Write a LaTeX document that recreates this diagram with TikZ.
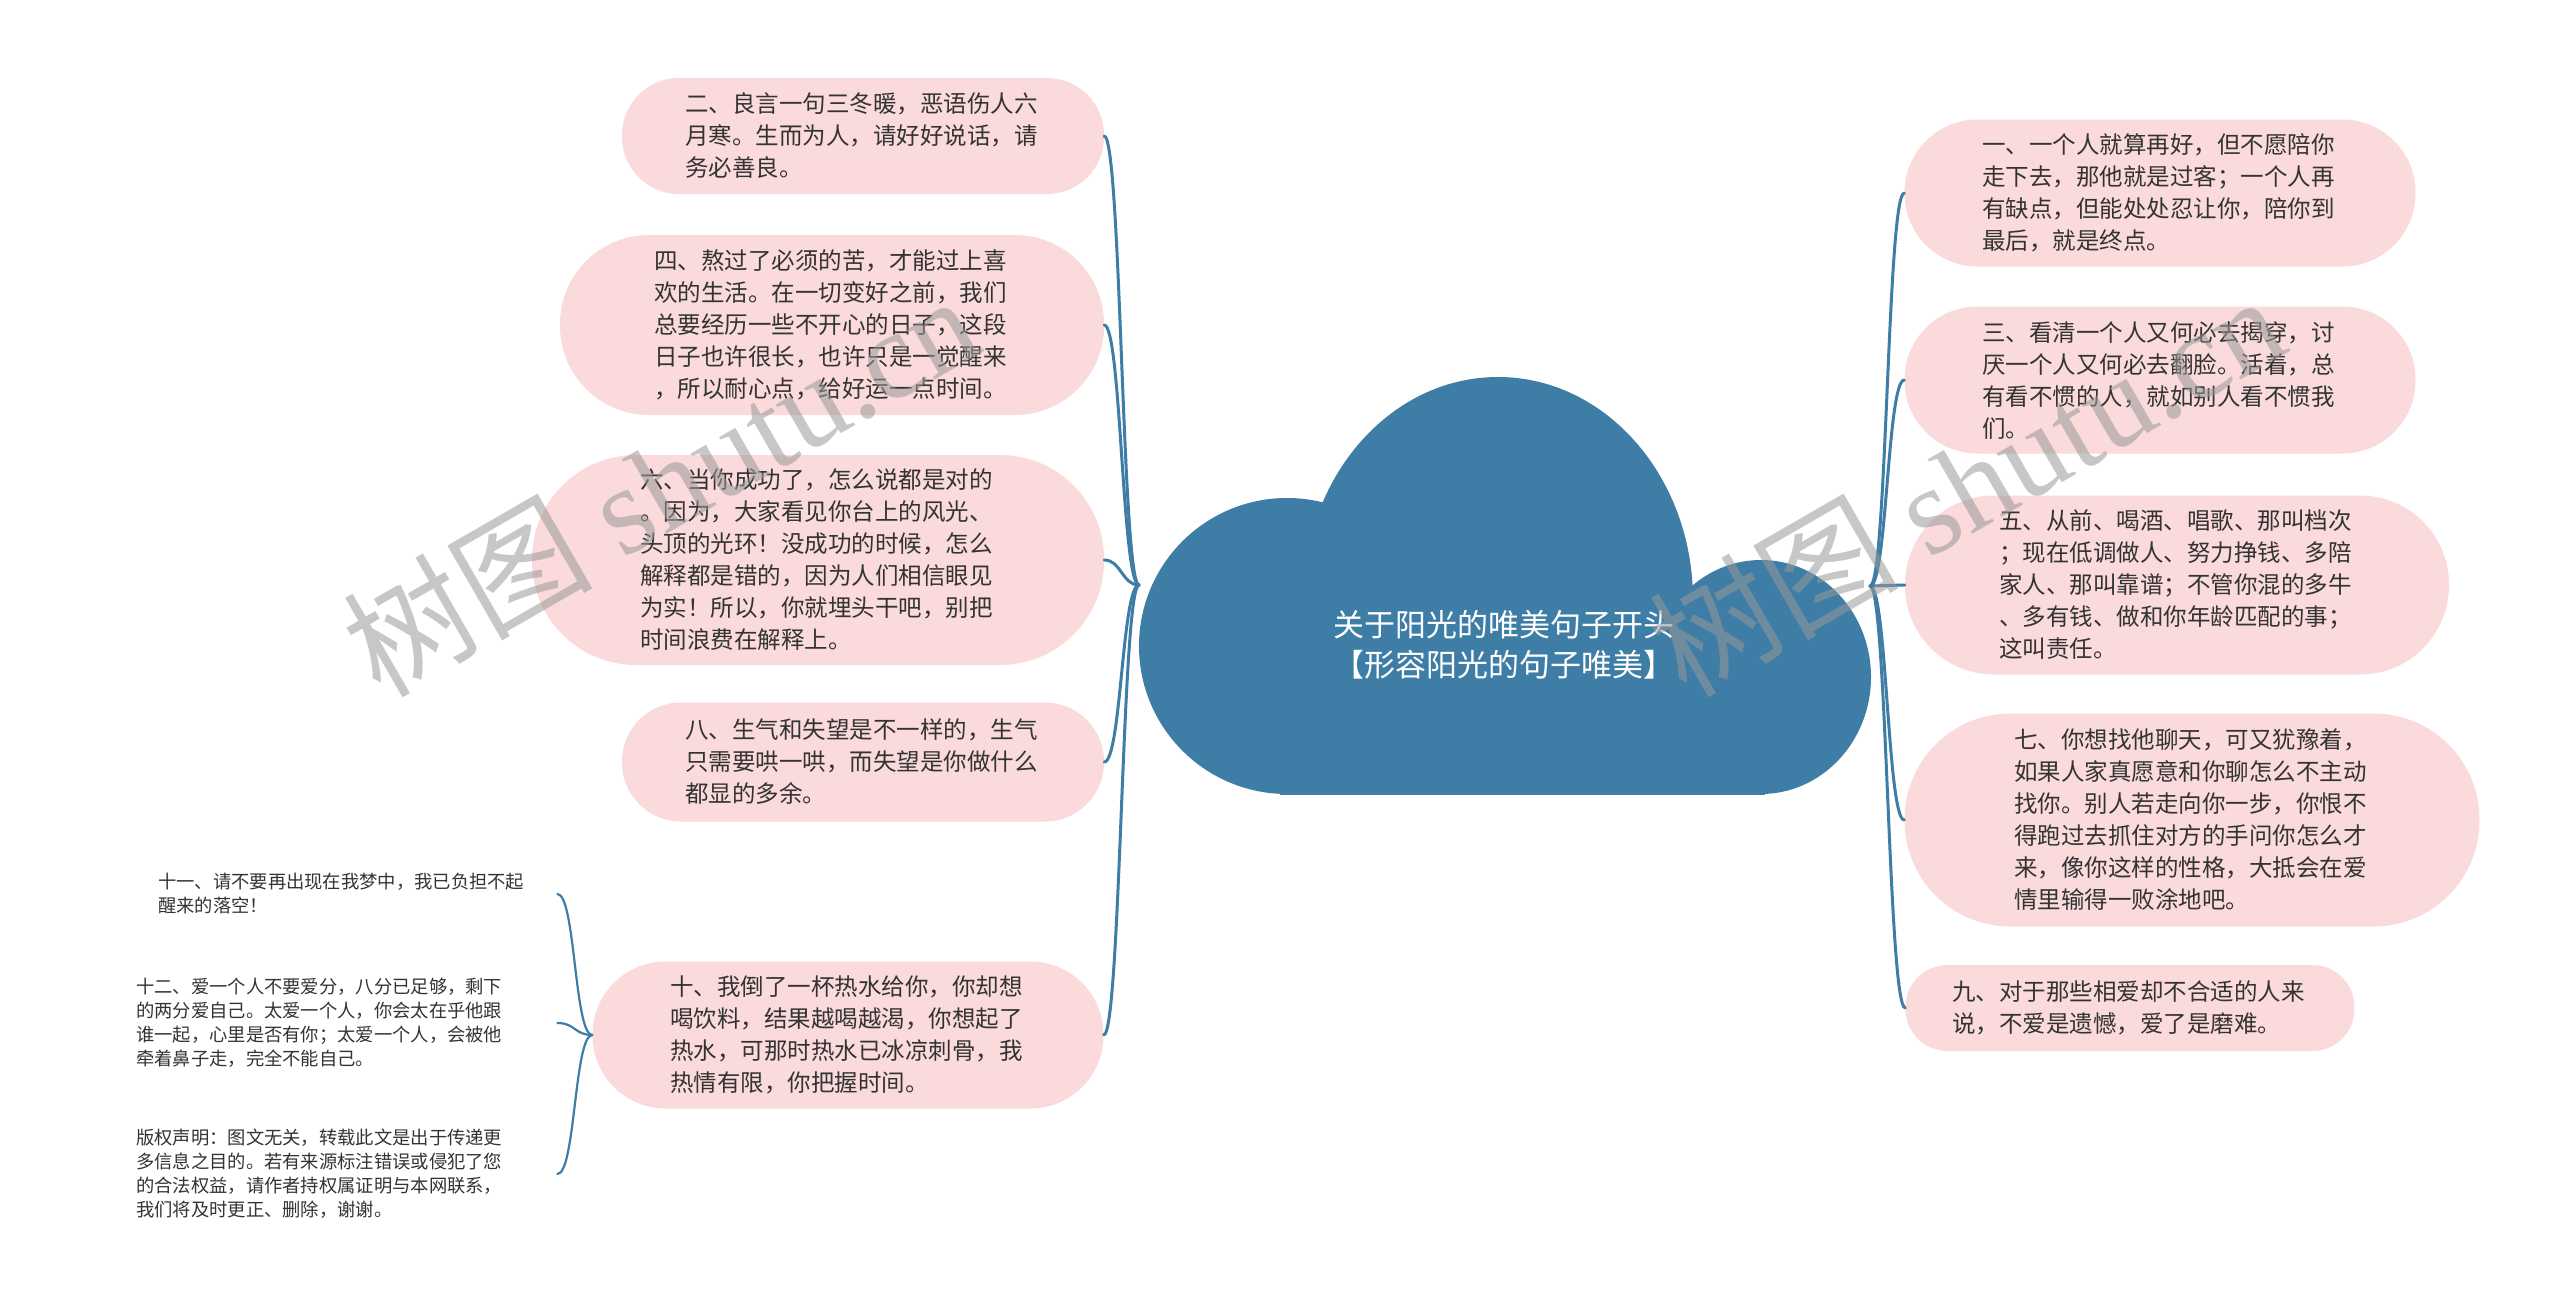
\documentclass[tikz,border=0pt]{standalone}
\usepackage{fontspec}
\setmainfont{Noto Sans CJK SC}
\newfontfamily\wmserif{Liberation Serif}
\definecolor{cloudblue}{RGB}{62,125,166}
\definecolor{leafpink}{RGB}{250,218,218}
\definecolor{textdark}{RGB}{51,51,51}
\begin{document}
\begin{tikzpicture}[x=1pt,y=-1pt,
  leaf/.style={fill=leafpink, text=textdark, align=left, inner sep=0pt,
    text width=356pt, font=\fontsize{23.5}{32}\selectfont},
  subtext/.style={text=textdark, align=left, inner sep=0pt, anchor=west,
    font=\fontsize{18.3}{24}\selectfont},
  roottext/.style={text=white, align=center, inner sep=0pt,
    font=\fontsize{31}{40}\selectfont},
  conn/.style={draw=cloudblue, line width=3pt, line cap=round},
  subconn/.style={draw=cloudblue, line width=2.2pt, line cap=round},
  wm/.style={text=black!40, opacity=0.55, inner sep=0pt, anchor=base west,
    rotate=30, font=\fontsize{125}{125}\selectfont}
]
\useasboundingbox (0,0) rectangle (2560,1309);
\fill[white] (0,0) rectangle (2560,1309);

% cloud
\begin{scope}
  \clip (1100,300) rectangle (1900,794);
  \fill[cloudblue] (1287,646) circle[radius=148pt];
  \fill[cloudblue] (1761,677) ellipse[x radius=110pt, y radius=117pt];
  \fill[cloudblue] (1498,600) ellipse[x radius=195pt, y radius=223pt];
  \fill[cloudblue] (1280,600) rectangle (1765,800);
\end{scope}
\node[roottext] (root) at (1504,645) {关于阳光的唯美句子开头\\【形容阳光的句子唯美】};
\coordinate (JL) at (1139,585);
\coordinate (JR) at (1870,586);

% left nodes
\node[leaf, minimum width=482pt, minimum height=116pt, rounded corners=57pt] (n2) at (863,136)
 {二、良言一句三冬暖，恶语伤人六\\月寒。生而为人，请好好说话，请\\务必善良。};
\node[leaf, minimum width=544pt, minimum height=180pt, rounded corners=89pt] (n4) at (832,325)
 {四、熬过了必须的苦，才能过上喜\\欢的生活。在一切变好之前，我们\\总要经历一些不开心的日子，这段\\日子也许很长，也许只是一觉醒来\\，所以耐心点，给好运一点时间。};
\node[leaf, minimum width=572pt, minimum height=210pt, rounded corners=104pt] (n6) at (818,560)
 {六、当你成功了，怎么说都是对的\\。因为，大家看见你台上的风光、\\头顶的光环！没成功的时候，怎么\\解释都是错的，因为人们相信眼见\\为实！所以，你就埋头干吧，别把\\时间浪费在解释上。};
\node[leaf, minimum width=482pt, minimum height=119pt, rounded corners=59pt] (n8) at (863,762)
 {八、生气和失望是不一样的，生气\\只需要哄一哄，而失望是你做什么\\都显的多余。};
\node[leaf, minimum width=511pt, minimum height=147pt, rounded corners=73pt] (n10) at (848,1035)
 {十、我倒了一杯热水给你，你却想\\喝饮料，结果越喝越渴，你想起了\\热水，可那时热水已冰凉刺骨，我\\热情有限，你把握时间。};

% right nodes
\node[leaf, minimum width=511pt, minimum height=147pt, rounded corners=73pt] (n1) at (2160,193)
 {一、一个人就算再好，但不愿陪你\\走下去，那他就是过客；一个人再\\有缺点，但能处处忍让你，陪你到\\最后，就是终点。};
\node[leaf, minimum width=511pt, minimum height=147pt, rounded corners=73pt] (n3) at (2160,380)
 {三、看清一个人又何必去揭穿，讨\\厌一个人又何必去翻脸。活着，总\\有看不惯的人，就如别人看不惯我\\们。};
\node[leaf, minimum width=544pt, minimum height=179pt, rounded corners=89pt] (n5) at (2177,585)
 {五、从前、喝酒、唱歌、那叫档次\\；现在低调做人、努力挣钱、多陪\\家人、那叫靠谱；不管你混的多牛\\、多有钱、做和你年龄匹配的事；\\这叫责任。};
\node[leaf, minimum width=575pt, minimum height=213pt, rounded corners=106pt] (n7) at (2192,820)
 {七、你想找他聊天，可又犹豫着，\\如果人家真愿意和你聊怎么不主动\\找你。别人若走向你一步，你恨不\\得跑过去抓住对方的手问你怎么才\\来，像你这样的性格，大抵会在爱\\情里输得一败涂地吧。};
\node[leaf, minimum width=449pt, minimum height=86pt, rounded corners=42pt] (n9) at (2130,1008)
 {九、对于那些相爱却不合适的人来\\说，不爱是遗憾，爱了是磨难。};

% sub texts of n10
\node[subtext, text width=399pt] (s11) at (158,894)
 {十一、请不要再出现在我梦中，我已负担不起\\醒来的落空！};
\node[subtext, text width=421pt] (s12) at (136,1023)
 {十二、爱一个人不要爱分，八分已足够，剩下\\的两分爱自己。太爱一个人，你会太在乎他跟\\谁一起，心里是否有你；太爱一个人，会被他\\牵着鼻子走，完全不能自己。};
\node[subtext, text width=421pt] (scr) at (136,1174)
 {版权声明：图文无关，转载此文是出于传递更\\多信息之目的。若有来源标注错误或侵犯了您\\的合法权益，请作者持权属证明与本网联系，\\我们将及时更正、删除，谢谢。};

% connectors left
\foreach \n in {n2,n4,n6,n8,n10}
  \draw[conn] (JL) .. controls +(-17,0) and +(17,0) .. (\n.east);
% connectors right
\foreach \n in {n1,n3,n5,n7,n9}
  \draw[conn] (JR) .. controls +(17,0) and +(-17,0) .. (\n.west);
% sub connectors
\foreach \n in {s11,s12,scr}
  \draw[subconn] (n10.west) .. controls +(-18,0) and +(18,0) .. (\n.east);

% watermarks
\node[wm] (wm1) at (380,700) {树图\hspace{30pt}{\wmserif shutu.cn}};
\node[wm] (wm2) at (1686,700) {树图\hspace{30pt}{\wmserif shutu.cn}};
\end{tikzpicture}
\end{document}
